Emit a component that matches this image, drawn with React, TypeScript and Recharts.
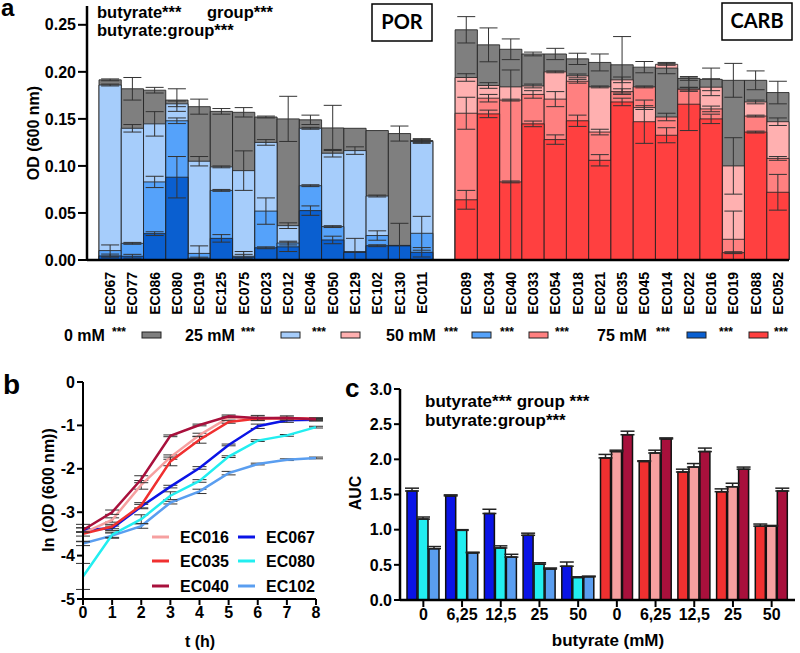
import React from "react";
import { BarChart, Bar, XAxis, YAxis, ErrorBar, Cell, LineChart, Line } from "recharts";

// ---------- panel a: OD at 0 / 25 / 50 / 75 mM butyrate ----------
const porStrains = ["EC067", "EC077", "EC086", "EC080", "EC019", "EC125", "EC075", "EC023", "EC012", "EC046", "EC050", "EC129", "EC102", "EC130", "EC011"];
const porOD0 = [0.1915, 0.182, 0.1805, 0.17, 0.163, 0.158, 0.157, 0.152, 0.15, 0.149, 0.1404, 0.14, 0.1376, 0.1344, 0.127];
const porOD25 = [0.186, 0.14, 0.1447, 0.166, 0.105, 0.099, 0.095, 0.125, 0.0365, 0.14, 0.1135, 0.1163, 0.068, 0.0155, 0.126];
const porOD50 = [0.01, 0.0177, 0.083, 0.148, 0.007, 0.074, 0.004, 0.052, 0.018, 0.079, 0.0355, 0.009, 0.026, 0.0152, 0.0284];
const porOD75 = [0.0043, 0.004, 0.028, 0.088, 0.002, 0.023, 0.003, 0.013, 0.014, 0.0525, 0.0213, 0.008, 0.0152, 0.015, 0.0082];
const porErr0 = [0.001, 0.012, 0.003, 0.012, 0.008, 0.003, 0.005, 0.001, 0.024, 0.005, 0.024, 0, 0, 0.008, 0.002];
const porErr25 = [0.001, 0.004, 0.013, 0.003, 0.005, 0.001, 0.021, 0.003, 0.003, 0.001, 0.004, 0.004, 0.001, 0, 0.002];
const porErr50 = [0.006, 0.001, 0.006, 0.003, 0.008, 0.001, 0.002, 0.014, 0.002, 0.001, 0.001, 0, 0.005, 0, 0.018];
const porErr75 = [0.002, 0.002, 0.002, 0.022, 0.001, 0.004, 0.006, 0.001, 0.005, 0.005, 0.004, 0.015, 0.001, 0.024, 0.005];

const carbStrains = ["EC089", "EC034", "EC040", "EC033", "EC054", "EC018", "EC021", "EC035", "EC045", "EC014", "EC022", "EC016", "EC019", "EC088", "EC052"];
const carbOD0 = [0.2447, 0.2287, 0.224, 0.219, 0.219, 0.2138, 0.21, 0.2075, 0.205, 0.204, 0.193, 0.192, 0.191, 0.191, 0.178];
const carbOD25 = [0.194, 0.1855, 0.184, 0.185, 0.2, 0.1957, 0.184, 0.1915, 0.162, 0.208, 0.1815, 0.1837, 0.1, 0.168, 0.147];
const carbOD50 = [0.156, 0.172, 0.17, 0.176, 0.171, 0.19, 0.136, 0.179, 0.184, 0.152, 0.1815, 0.1606, 0.022, 0.153, 0.108];
const carbOD75 = [0.064, 0.1553, 0.083, 0.1447, 0.128, 0.148, 0.106, 0.168, 0.147, 0.1326, 0.1656, 0.15, 0.0078, 0.136, 0.072];
const carbErr0 = [0.014, 0.018, 0.011, 0.002, 0.006, 0.006, 0.009, 0.03, 0.006, 0.006, 0.002, 0.012, 0.018, 0.01, 0.012];
const carbErr25: (number | number[])[] = [0.004, 0.003, [0.184, 0.018], 0.002, 0.001, 0.002, 0.001, 0.003, 0.002, 0.001, 0.002, 0.009, 0.03, 0.002, 0.004];
const carbErr50 = [0.017, 0.004, 0.001, 0.004, 0.008, 0.002, 0.003, 0.003, 0.001, 0.004, 0.002, 0.003, 0.03, 0.001, 0.002];
const carbErr75 = [0.01, 0.004, 0.001, 0.003, 0.005, 0.006, 0.006, 0.004, 0.023, 0.008, 0.028, 0.005, 0.001, 0.001, 0.019];

const odTicks = [0, 0.05, 0.1, 0.15, 0.2, 0.25];

const GREY = "#7f7f7f";
const porColors = [GREY, "#a6cdfb", "#55a2fa", "#0a5fd0"];
const carbColors = [GREY, "#ffb0b0", "#ff8080", "#ff4040"];

// ---------- panel b: growth curves ----------
const tHours = [0, 1, 2, 3, 4, 5, 6, 7, 8];
const lnEC016 = [-3.48, -3.18, -2.37, -1.73, -1.22, -0.82, -0.85, -0.84, -0.85];
const lnEC035 = [-3.5, -3.33, -2.84, -1.83, -1.33, -0.92, -0.84, -0.83, -0.85];
const lnEC040 = [-3.41, -3.0, -2.24, -1.24, -0.99, -0.79, -0.83, -0.83, -0.86];
const lnEC067 = [-3.41, -3.37, -2.87, -2.41, -1.98, -1.45, -1.02, -0.88, -0.87];
const lnEC080 = [-4.48, -3.52, -3.16, -2.62, -2.28, -1.72, -1.35, -1.23, -1.04];
const lnEC102 = [-3.72, -3.54, -3.32, -2.78, -2.52, -2.1, -1.89, -1.79, -1.75];
const errEC016 = [0.2, 0.05, 0.1, 0.05, 0.04, 0.03, 0.03, 0.02, 0.02];
const errEC035 = [0.05, 0.05, 0.06, 0.1, 0.08, 0.03, 0.03, 0.02, 0.02];
const errEC040 = [0.05, 0.05, 0.08, 0.02, 0.02, 0.03, 0.06, 0.05, 0.03];
const errEC067 = [0.05, 0.05, 0.05, 0.03, 0.03, 0.02, 0.05, 0.05, 0.03];
const errEC080 = [0.3, 0.06, 0.1, 0.09, 0.03, 0.02, 0.02, 0.02, 0.02];
const errEC102 = [0.05, 0.06, 0.05, 0.03, 0.05, 0.04, 0.02, 0.02, 0.02];
const lnTicks = [-5, -4, -3, -2, -1, 0];

// ---------- panel c: AUC ----------
const aucConc = ["0", "6,25", "12,5", "25", "50"];
const aucEC067 = [1.55, 1.48, 1.23, 0.92, 0.48];
const aucEC080 = [1.15, 0.99, 0.74, 0.51, 0.32];
const aucEC102 = [0.73, 0.67, 0.61, 0.44, 0.33];
const aucEC035 = [2.02, 1.97, 1.82, 1.54, 1.05];
const aucEC016 = [2.11, 2.09, 1.89, 1.61, 1.05];
const aucEC040 = [2.35, 2.29, 2.11, 1.86, 1.55];
const aucErr067 = [0.04, 0.015, 0.06, 0.03, 0.06];
const aucErr080 = [0.03, 0.01, 0.03, 0.02, 0.01];
const aucErr102 = [0.03, 0.01, 0.04, 0.015, 0.01];
const aucErr035 = [0.05, 0.01, 0.04, 0.04, 0.03];
const aucErr016 = [0.02, 0.04, 0.05, 0.05, 0.01];
const aucErr040 = [0.05, 0.015, 0.05, 0.03, 0.04];
const aucTicks = [0, 0.5, 1, 1.5, 2, 2.5, 3];

const strainColor: Record<string, string> = {
  EC016: "#f6a0a0",
  EC035: "#f03030",
  EC040: "#a8103c",
  EC067: "#0a14e6",
  EC080: "#22eef0",
  EC102: "#5a9ef0",
};

const AX = "'Liberation Sans', Arial, sans-serif";
const BOX = "Lato, 'Open Sans', sans-serif";

// overlapping bars: tallest drawn first, per strain; error bars stop at 0
function buildRows(strains: string[], ods: number[][], errs: any[][], colors: string[]) {
  return strains.map((s, i) => {
    const layers = ods.map((arr, k) => {
      const e = errs[k][i];
      const v = arr[i];
      const err = Array.isArray(e) ? e : e ? [Math.min(e, v), e] : 0;
      return { v, e: err, c: colors[k] };
    });
    const sorted = layers.slice().sort((a, b) => b.v - a.v);
    const row: any = { strain: s };
    sorted.forEach((l, r) => {
      row[`v${r}`] = l.v;
      row[`e${r}`] = l.e;
      row[`c${r}`] = l.c;
    });
    return row;
  });
}

const rowsA = [
  ...buildRows(porStrains, [porOD0, porOD25, porOD50, porOD75], [porErr0, porErr25, porErr50, porErr75], porColors),
  { strain: "" },
  ...buildRows(carbStrains, [carbOD0, carbOD25, carbOD50, carbOD75], [carbErr0, carbErr25, carbErr50, carbErr75], carbColors),
];

const rowsB = tHours.map((t, i) => ({
  t,
  EC016: lnEC016[i], EC035: lnEC035[i], EC040: lnEC040[i],
  EC067: lnEC067[i], EC080: lnEC080[i], EC102: lnEC102[i],
  eEC016: errEC016[i], eEC035: errEC035[i], eEC040: errEC040[i],
  eEC067: errEC067[i], eEC080: errEC080[i], eEC102: errEC102[i],
}));

const rowsC = [
  ...aucConc.map((c, i) => ({
    conc: c, a: aucEC067[i], b: aucEC080[i], c: aucEC102[i],
    ea: [0, aucErr067[i]], eb: [0, aucErr080[i]], ec: [0, aucErr102[i]],
    cols: [strainColor.EC067, strainColor.EC080, strainColor.EC102],
  })),
  ...aucConc.map((c, i) => ({
    conc: c, a: aucEC035[i], b: aucEC016[i], c: aucEC040[i],
    ea: [0, aucErr035[i]], eb: [0, aucErr016[i]], ec: [0, aucErr040[i]],
    cols: [strainColor.EC035, strainColor.EC016, strainColor.EC040],
  })),
];

const tickStyle = { fill: "#000", fontSize: 16, fontWeight: 700, fontFamily: AX };

function StrainTick(props: any) {
  const { x, y, payload } = props;
  return (
    <g transform={`translate(${x},${y})`}>
      <text x={0} y={0} transform="rotate(-90)" textAnchor="end" dy="0.36em"
        fill="#000" fontSize={14} fontWeight={700} fontFamily={AX}>
        {payload.value}
      </text>
    </g>
  );
}

const layers = [0, 1, 2, 3];
// width of one strain slot in panel a (plot 702px, 12px left padding, 31 slots)
const SLOT = (800 - 87 - 11 - 12) / 31;

function PanelA() {
  return (
    <BarChart width={800} height={330} data={rowsA} margin={{ top: 6, right: 11, bottom: 10, left: 0 }}
      barCategoryGap={0} barGap={-SLOT} barSize={SLOT}>
      <XAxis dataKey="strain" interval={0} padding={{ left: 12, right: 0 }} height={60}
        tickLine={false} tickSize={0} tickMargin={12}
        axisLine={{ stroke: "#000", strokeWidth: 2.5 }} tick={<StrainTick />} />
      <YAxis width={87} domain={[0, 0.27]} allowDataOverflow ticks={odTicks}
        tickFormatter={(v: number) => v.toFixed(2)}
        axisLine={{ stroke: "#000", strokeWidth: 2.5 }} tickLine={{ stroke: "#000", strokeWidth: 2 }}
        tickSize={9} tick={tickStyle} />
      {layers.map((r) => (
        <Bar key={`b${r}`} dataKey={`v${r}`} isAnimationActive={false}
          stroke="#222" strokeWidth={1} strokeOpacity={0.85}>
          {rowsA.map((row: any, i) => (
            <Cell key={i} fill={row[`c${r}`] || "none"} />
          ))}
        </Bar>
      ))}
      {layers.map((r) => (
        <Bar key={`eb${r}`} dataKey={`v${r}`} fill="none" isAnimationActive={false}>
          <ErrorBar dataKey={`e${r}`} direction="y" width={9} stroke="#333" strokeWidth={1} />
        </Bar>
      ))}
    </BarChart>
  );
}

const curveOrder = ["EC102", "EC080", "EC067", "EC016", "EC035", "EC040"];

function PanelB() {
  return (
    <LineChart width={330} height={303} data={rowsB} margin={{ top: 32, right: 14, bottom: 14, left: 0 }}>
      <XAxis dataKey="t" type="number" domain={[0, 8]} ticks={tHours} height={40}
        axisLine={{ stroke: "#000", strokeWidth: 2 }} tickLine={{ stroke: "#000", strokeWidth: 2 }}
        tickSize={6} tick={tickStyle} />
      <YAxis width={83} domain={[-5, 0]} allowDataOverflow ticks={lnTicks}
        axisLine={{ stroke: "#000", strokeWidth: 2 }} tickLine={{ stroke: "#000", strokeWidth: 2 }}
        tickSize={6} tick={tickStyle} />
      {curveOrder.map((s) => (
        <Line key={s} dataKey={s} stroke={strainColor[s]} strokeWidth={2.5} dot={false}
          isAnimationActive={false}>
          <ErrorBar dataKey={`e${s}`} direction="y" width={7} stroke="#333" strokeWidth={1} />
        </Line>
      ))}
    </LineChart>
  );
}

function PanelC() {
  const keys = ["a", "b", "c"];
  return (
    <BarChart width={500} height={303} data={rowsC} margin={{ top: 39, right: 5, bottom: 13, left: 0 }}
      barSize={10} barGap={1}>
      <XAxis dataKey="conc" height={40} interval={0} padding={{ left: 4, right: 4 }}
        axisLine={{ stroke: "#000", strokeWidth: 2.5 }} tickLine={{ stroke: "#000", strokeWidth: 2 }}
        tickSize={7} tick={tickStyle} />
      <YAxis width={100} domain={[0, 3]} allowDataOverflow ticks={aucTicks}
        tickFormatter={(v: number) => v.toFixed(1)}
        axisLine={{ stroke: "#000", strokeWidth: 2.5 }} tickLine={{ stroke: "#000", strokeWidth: 2 }}
        tickSize={6} tick={tickStyle} />
      {keys.map((k, j) => (
        <Bar key={k} dataKey={k} isAnimationActive={false} stroke="#111" strokeWidth={1.5}>
          {rowsC.map((row, i) => (
            <Cell key={i} fill={row.cols[j]} />
          ))}
          <ErrorBar dataKey={`e${k}`} direction="y" width={7} stroke="#222" strokeWidth={1.5} />
        </Bar>
      ))}
    </BarChart>
  );
}

const legendA = [
  { label: "0 mM", x: 64, star: 112, sw: [{ x: 142, c: GREY }] },
  { label: "25 mM", x: 185, star: 241, sw: [{ x: 281, c: porColors[1] }] },
  { label: "", x: 0, star: 312, sw: [{ x: 341, c: carbColors[1] }] },
  { label: "50 mM", x: 386, star: 444, sw: [{ x: 472, c: porColors[2] }] },
  { label: "", x: 0, star: 500, sw: [{ x: 529, c: carbColors[2] }] },
  { label: "", x: 0, star: 555, sw: [] },
  { label: "75 mM", x: 597, star: 656, sw: [{ x: 687, c: porColors[3] }] },
  { label: "", x: 0, star: 719, sw: [{ x: 749, c: carbColors[3] }] },
  { label: "", x: 0, star: 774, sw: [] },
];

const legendB = [
  { s: "EC016", x: 152, y: 537 },
  { s: "EC035", x: 152, y: 561 },
  { s: "EC040", x: 152, y: 586 },
  { s: "EC067", x: 238, y: 537 },
  { s: "EC080", x: 238, y: 561 },
  { s: "EC102", x: 238, y: 586 },
];

function Overlay() {
  const b = { fontFamily: AX, fontWeight: 700, fill: "#000" } as const;
  const bx = { fontFamily: BOX, fontWeight: 700, fill: "#000" } as const;
  return (
    <svg width={800} height={653} style={{ position: "absolute", left: 0, top: 0, pointerEvents: "none" }}>
      {/* panel letters */}
      <text x={1} y={16} fontSize={24} {...b}>a</text>
      <text x={3} y={394} fontSize={28} {...b}>b</text>
      <text x={345} y={397} fontSize={26} {...b}>c</text>

      {/* panel a annotations */}
      <text x={97} y={18} fontSize={16.5} {...b}>butyrate***</text>
      <text x={207} y={18} fontSize={16.5} {...b}>group***</text>
      <text x={97} y={35.5} fontSize={16.5} {...b}>butyrate:group***</text>
      <rect x={372} y={4} width={60} height={37} fill="#fff" stroke="#000" strokeWidth={1.5} />
      <text x={402} y={29} fontSize={20} textAnchor="middle" {...bx}>POR</text>
      <rect x={722} y={3} width={70} height={37} fill="#fff" stroke="#000" strokeWidth={1.5} />
      <text x={757} y={28} fontSize={20} textAnchor="middle" {...bx}>CARB</text>
      <text transform="translate(39 133) rotate(-90)" fontSize={16} textAnchor="middle" {...b}>OD (600 nm)</text>

      {/* panel a legend */}
      {legendA.map((it, i) => (
        <g key={i}>
          {it.label && <text x={it.x} y={341} fontSize={16} {...b}>{it.label}</text>}
          <text x={it.star} y={336} fontSize={12} {...b}>***</text>
          {it.sw.map((s, j) => (
            <rect key={j} x={s.x} y={332} width={19} height={6} fill={s.c} stroke="#222" strokeWidth={1} />
          ))}
        </g>
      ))}

      {/* panel b labels */}
      <text transform="translate(54 490) rotate(-90)" fontSize={16} textAnchor="middle" {...b}>ln (OD (600 nm))</text>
      <text x={200} y={647} fontSize={16} textAnchor="middle" {...b}>t (h)</text>
      {legendB.map((l) => (
        <g key={l.s}>
          <line x1={l.x} x2={l.x + 17} y1={l.y} y2={l.y} stroke={strainColor[l.s]} strokeWidth={3} />
          <text x={l.x + 28} y={l.y + 6} fontSize={16} {...b}>{l.s}</text>
        </g>
      ))}

      {/* panel c labels */}
      <text x={425} y={407} fontSize={17} {...b}>butyrate*** group ***</text>
      <text x={425} y={426} fontSize={17} {...b}>butyrate:group***</text>
      <text transform="translate(361 493) rotate(-90)" fontSize={16} textAnchor="middle" {...b}>AUC</text>
      <text x={608} y={646} fontSize={17} textAnchor="middle" {...b}>butyrate (mM)</text>
    </svg>
  );
}

export default function App() {
  return (
    <div style={{ position: "absolute", left: 0, top: 0, width: 800, height: 653, background: "#fff", overflow: "hidden" }}>
      <div style={{ position: "absolute", left: 0, top: 0 }}>
        <PanelA />
      </div>
      <div style={{ position: "absolute", left: 0, top: 350 }}>
        <PanelB />
      </div>
      <div style={{ position: "absolute", left: 300, top: 350 }}>
        <PanelC />
      </div>
      <Overlay />
    </div>
  );
}
